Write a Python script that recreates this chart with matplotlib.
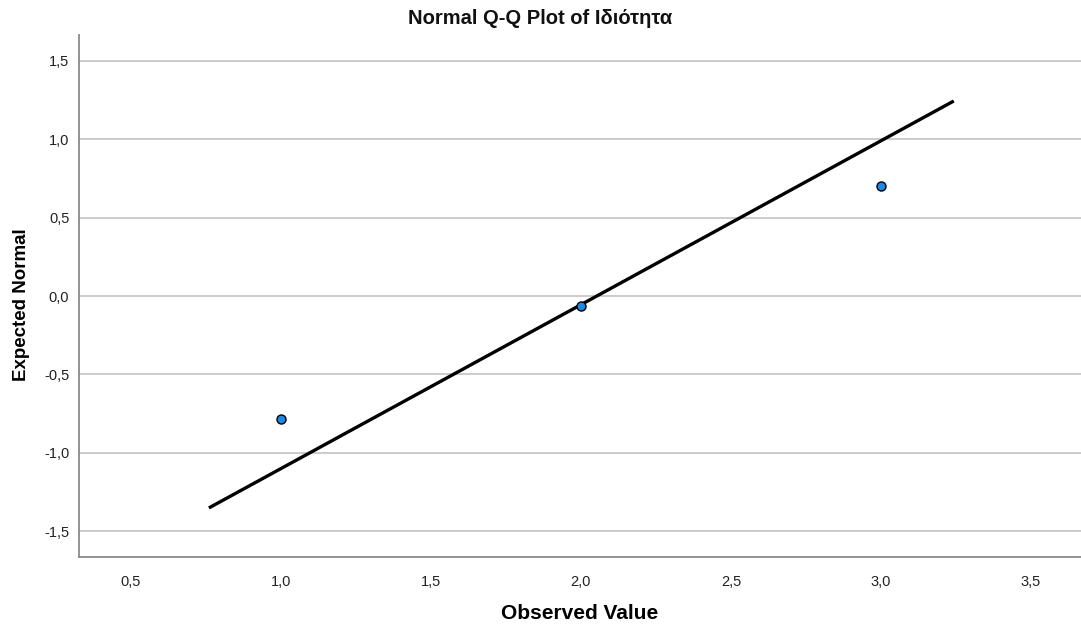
import matplotlib
matplotlib.use("Agg")
import matplotlib.pyplot as plt
from matplotlib.ticker import FuncFormatter, FixedLocator

# Data
observed = [1.0, 2.0, 3.0]
expected = [-0.784, -0.064, 0.70]
line_x = [0.76, 3.243]
line_y = [-1.352, 1.244]
x_ticks = [0.5, 1.0, 1.5, 2.0, 2.5, 3.0, 3.5]
y_ticks = [-1.5, -1.0, -0.5, 0.0, 0.5, 1.0, 1.5]

plt.rcParams['font.family'] = ['Liberation Sans', 'DejaVu Sans']

fig = plt.figure(figsize=(10.81, 6.31), dpi=100)
ax = fig.add_axes([79/1081, 74/631, 1 - 79/1081, (557-35)/631])

ax.set_xlim(0.327, 3.667)
ax.set_ylim(-1.665, 1.665)

ax.xaxis.set_major_locator(FixedLocator(x_ticks))
ax.yaxis.set_major_locator(FixedLocator(y_ticks))
fmt = FuncFormatter(lambda v, p: f"{v:.1f}".replace('.', ','))
ax.xaxis.set_major_formatter(fmt)
ax.yaxis.set_major_formatter(fmt)

ax.grid(axis='y', color='#c8c8c8', linewidth=1.3)
ax.set_axisbelow(True)
ax.tick_params(length=0, labelsize=10.5, colors='#222222')
ax.tick_params(axis='x', pad=13)
ax.tick_params(axis='y', pad=7)

for s in ['top', 'right']:
    ax.spines[s].set_visible(False)
for s in ['left', 'bottom']:
    ax.spines[s].set_color('#8a8a8a')
    ax.spines[s].set_linewidth(1.3)

ax.plot(line_x, line_y, color='black', linewidth=2.4, solid_capstyle='butt', zorder=2)
ax.plot(observed, expected, 'o', markersize=6.5, markerfacecolor='#1e88e5',
        markeredgecolor='black', markeredgewidth=1.0, zorder=3)

fig.text(0.5, 1 - 18/631, 'Normal Q-Q Plot of Ιδιότητα', ha='center', va='center',
         fontsize=14.5, fontweight='bold', color='#111111')
ax.set_xlabel('Observed Value', fontsize=15, fontweight='bold', labelpad=11)
ax.set_ylabel('Expected Normal', fontsize=13.5, fontweight='bold', labelpad=10)
ax.yaxis.label.set_y(0.483)

fig.savefig('out.png', dpi=100, facecolor='white')
